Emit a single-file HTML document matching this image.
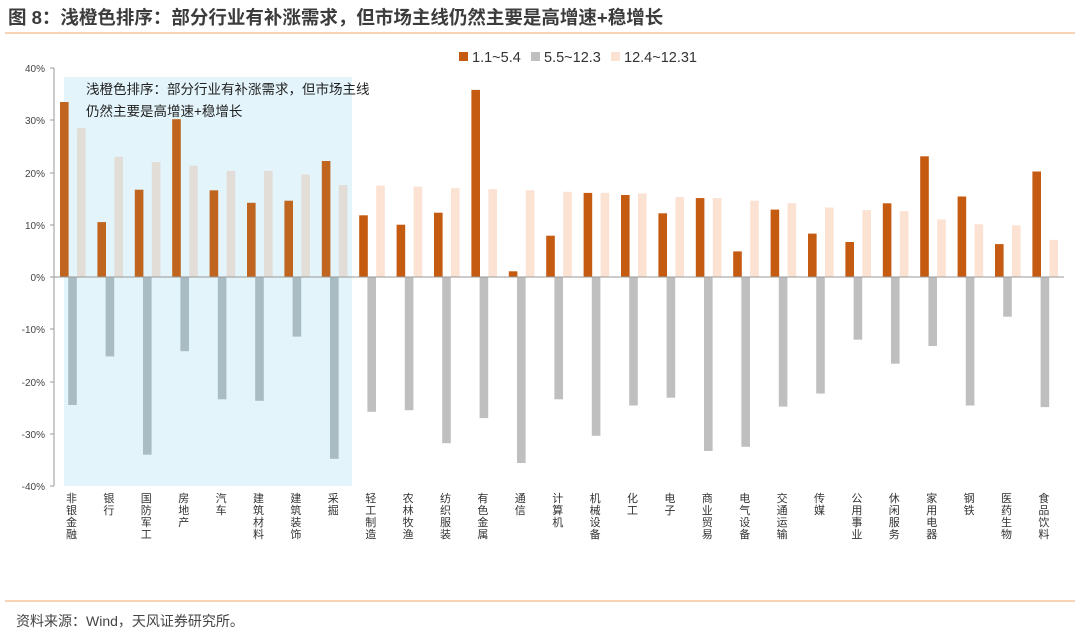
<!DOCTYPE html>
<html><head><meta charset="utf-8"><style>
body{margin:0;background:#fff;}
svg{display:block;font-family:"Liberation Sans","Noto Sans CJK SC",sans-serif;}
</style></head><body>
<svg width="1080" height="633" viewBox="0 0 1080 633" xmlns="http://www.w3.org/2000/svg">
<text x="8" y="24" font-size="18.5" font-weight="bold" fill="#3c3c3c">图 8：浅橙色排序：部分行业有补涨需求，但市场主线仍然主要是高增速+稳增长</text>
<line x1="5" y1="33" x2="1075" y2="33" stroke="#f6c59c" stroke-width="1.5"/>
<rect x="64" y="77" width="288" height="409" fill="#e3f4fb"/>
<text x="86" y="94" font-size="13.5" fill="#222">浅橙色排序：部分行业有补涨需求，但市场主线</text>
<text x="86" y="116" font-size="13.5" fill="#222">仍然主要是高增速+稳增长</text>
<rect x="459" y="52" width="9" height="9" fill="#c55a11"/><text x="472" y="62" font-size="14.5" fill="#333">1.1~5.4</text>
<rect x="531" y="52" width="9" height="9" fill="#bfbfbf"/><text x="544" y="62" font-size="14.5" fill="#333">5.5~12.3</text>
<rect x="611" y="52" width="9" height="9" fill="#fbe2d3"/><text x="624" y="62" font-size="14.5" fill="#333">12.4~12.31</text>
<g>
<rect x="60.0" y="102.0" width="8.6" height="175.0" fill="#c0651f"/><rect x="68.2" y="277" width="8.6" height="128.0" fill="#a9bbc3"/><rect x="77.0" y="128.1" width="8.6" height="148.9" fill="#e2ddd6"/>
<rect x="97.4" y="222.1" width="8.6" height="54.9" fill="#c0651f"/><rect x="105.6" y="277" width="8.6" height="79.4" fill="#a9bbc3"/><rect x="114.4" y="156.8" width="8.6" height="120.2" fill="#e2ddd6"/>
<rect x="134.8" y="189.7" width="8.6" height="87.3" fill="#c0651f"/><rect x="143.0" y="277" width="8.6" height="177.7" fill="#a9bbc3"/><rect x="151.8" y="162.0" width="8.6" height="115.0" fill="#e2ddd6"/>
<rect x="172.2" y="119.2" width="8.6" height="157.8" fill="#c0651f"/><rect x="180.4" y="277" width="8.6" height="74.2" fill="#a9bbc3"/><rect x="189.2" y="165.7" width="8.6" height="111.3" fill="#e2ddd6"/>
<rect x="209.6" y="190.3" width="8.6" height="86.7" fill="#c0651f"/><rect x="217.8" y="277" width="8.6" height="122.3" fill="#a9bbc3"/><rect x="226.6" y="170.9" width="8.6" height="106.1" fill="#e2ddd6"/>
<rect x="247.0" y="202.8" width="8.6" height="74.2" fill="#c0651f"/><rect x="255.2" y="277" width="8.6" height="123.8" fill="#a9bbc3"/><rect x="264.0" y="170.9" width="8.6" height="106.1" fill="#e2ddd6"/>
<rect x="284.4" y="200.7" width="8.6" height="76.3" fill="#c0651f"/><rect x="292.6" y="277" width="8.6" height="59.6" fill="#a9bbc3"/><rect x="301.4" y="174.6" width="8.6" height="102.4" fill="#e2ddd6"/>
<rect x="321.8" y="161.0" width="8.6" height="116.0" fill="#c0651f"/><rect x="330.0" y="277" width="8.6" height="181.8" fill="#a9bbc3"/><rect x="338.8" y="185.0" width="8.6" height="92.0" fill="#e2ddd6"/>
</g>
<g>
<rect x="359.2" y="215.3" width="8.6" height="61.7" fill="#c55a11"/><rect x="367.4" y="277" width="8.6" height="134.8" fill="#bfbfbf"/><rect x="376.2" y="185.6" width="8.6" height="91.4" fill="#fbe2d3"/>
<rect x="396.6" y="224.7" width="8.6" height="52.3" fill="#c55a11"/><rect x="404.8" y="277" width="8.6" height="133.2" fill="#bfbfbf"/><rect x="413.6" y="186.6" width="8.6" height="90.4" fill="#fbe2d3"/>
<rect x="434.0" y="212.7" width="8.6" height="64.3" fill="#c55a11"/><rect x="442.2" y="277" width="8.6" height="166.2" fill="#bfbfbf"/><rect x="451.0" y="188.2" width="8.6" height="88.8" fill="#fbe2d3"/>
<rect x="471.4" y="89.9" width="8.6" height="187.1" fill="#c55a11"/><rect x="479.6" y="277" width="8.6" height="141.1" fill="#bfbfbf"/><rect x="488.4" y="189.2" width="8.6" height="87.8" fill="#fbe2d3"/>
<rect x="508.8" y="271.3" width="8.6" height="5.7" fill="#c55a11"/><rect x="517.0" y="277" width="8.6" height="186.0" fill="#bfbfbf"/><rect x="525.8" y="190.3" width="8.6" height="86.7" fill="#fbe2d3"/>
<rect x="546.2" y="235.7" width="8.6" height="41.3" fill="#c55a11"/><rect x="554.4" y="277" width="8.6" height="122.3" fill="#bfbfbf"/><rect x="563.2" y="191.8" width="8.6" height="85.2" fill="#fbe2d3"/>
<rect x="583.6" y="192.9" width="8.6" height="84.1" fill="#c55a11"/><rect x="591.8" y="277" width="8.6" height="158.8" fill="#bfbfbf"/><rect x="600.6" y="192.9" width="8.6" height="84.1" fill="#fbe2d3"/>
<rect x="621.0" y="195.0" width="8.6" height="82.0" fill="#c55a11"/><rect x="629.2" y="277" width="8.6" height="128.5" fill="#bfbfbf"/><rect x="638.0" y="193.4" width="8.6" height="83.6" fill="#fbe2d3"/>
<rect x="658.4" y="213.3" width="8.6" height="63.7" fill="#c55a11"/><rect x="666.6" y="277" width="8.6" height="120.7" fill="#bfbfbf"/><rect x="675.4" y="197.1" width="8.6" height="79.9" fill="#fbe2d3"/>
<rect x="695.8" y="198.1" width="8.6" height="78.9" fill="#c55a11"/><rect x="704.0" y="277" width="8.6" height="174.0" fill="#bfbfbf"/><rect x="712.8" y="198.1" width="8.6" height="78.9" fill="#fbe2d3"/>
<rect x="733.2" y="251.4" width="8.6" height="25.6" fill="#c55a11"/><rect x="741.4" y="277" width="8.6" height="169.8" fill="#bfbfbf"/><rect x="750.2" y="200.7" width="8.6" height="76.3" fill="#fbe2d3"/>
<rect x="770.6" y="209.6" width="8.6" height="67.4" fill="#c55a11"/><rect x="778.8" y="277" width="8.6" height="129.6" fill="#bfbfbf"/><rect x="787.6" y="203.3" width="8.6" height="73.7" fill="#fbe2d3"/>
<rect x="808.0" y="233.6" width="8.6" height="43.4" fill="#c55a11"/><rect x="816.2" y="277" width="8.6" height="116.5" fill="#bfbfbf"/><rect x="825.0" y="207.5" width="8.6" height="69.5" fill="#fbe2d3"/>
<rect x="845.4" y="242.0" width="8.6" height="35.0" fill="#c55a11"/><rect x="853.6" y="277" width="8.6" height="62.7" fill="#bfbfbf"/><rect x="862.4" y="210.1" width="8.6" height="66.9" fill="#fbe2d3"/>
<rect x="882.8" y="203.3" width="8.6" height="73.7" fill="#c55a11"/><rect x="891.0" y="277" width="8.6" height="86.7" fill="#bfbfbf"/><rect x="899.8" y="211.2" width="8.6" height="65.8" fill="#fbe2d3"/>
<rect x="920.2" y="156.3" width="8.6" height="120.7" fill="#c55a11"/><rect x="928.4" y="277" width="8.6" height="69.0" fill="#bfbfbf"/><rect x="937.2" y="219.5" width="8.6" height="57.5" fill="#fbe2d3"/>
<rect x="957.6" y="196.5" width="8.6" height="80.5" fill="#c55a11"/><rect x="965.8" y="277" width="8.6" height="128.5" fill="#bfbfbf"/><rect x="974.6" y="224.2" width="8.6" height="52.8" fill="#fbe2d3"/>
<rect x="995.0" y="244.1" width="8.6" height="32.9" fill="#c55a11"/><rect x="1003.2" y="277" width="8.6" height="39.7" fill="#bfbfbf"/><rect x="1012.0" y="225.3" width="8.6" height="51.7" fill="#fbe2d3"/>
<rect x="1032.4" y="171.5" width="8.6" height="105.5" fill="#c55a11"/><rect x="1040.6" y="277" width="8.6" height="130.1" fill="#bfbfbf"/><rect x="1049.4" y="239.9" width="8.6" height="37.1" fill="#fbe2d3"/>
</g>
<g font-size="10" fill="#444" text-anchor="end">
<text x="45" y="72">40%</text><text x="45" y="124">30%</text><text x="45" y="177">20%</text><text x="45" y="229">10%</text><text x="45" y="281">0%</text><text x="45" y="333">-10%</text><text x="45" y="386">-20%</text><text x="45" y="438">-30%</text><text x="45" y="490">-40%</text>
</g>
<g stroke="#999" stroke-width="1">
<line x1="54" y1="68" x2="54" y2="486"/>
<line x1="50" y1="68" x2="54" y2="68"/><line x1="50" y1="120" x2="54" y2="120"/><line x1="50" y1="173" x2="54" y2="173"/><line x1="50" y1="225" x2="54" y2="225"/><line x1="50" y1="277" x2="54" y2="277"/><line x1="50" y1="329" x2="54" y2="329"/><line x1="50" y1="382" x2="54" y2="382"/><line x1="50" y1="434" x2="54" y2="434"/><line x1="50" y1="486" x2="54" y2="486"/>
<line x1="54" y1="277" x2="1064" y2="277"/>
</g>
<g font-size="11" fill="#333" text-anchor="middle">
<text x="71.5" y="502"><tspan x="71.5">非</tspan><tspan x="71.5" dy="12">银</tspan><tspan x="71.5" dy="12">金</tspan><tspan x="71.5" dy="12">融</tspan></text>
<text x="108.9" y="502"><tspan x="108.9">银</tspan><tspan x="108.9" dy="12">行</tspan></text>
<text x="146.3" y="502"><tspan x="146.3">国</tspan><tspan x="146.3" dy="12">防</tspan><tspan x="146.3" dy="12">军</tspan><tspan x="146.3" dy="12">工</tspan></text>
<text x="183.7" y="502"><tspan x="183.7">房</tspan><tspan x="183.7" dy="12">地</tspan><tspan x="183.7" dy="12">产</tspan></text>
<text x="221.1" y="502"><tspan x="221.1">汽</tspan><tspan x="221.1" dy="12">车</tspan></text>
<text x="258.5" y="502"><tspan x="258.5">建</tspan><tspan x="258.5" dy="12">筑</tspan><tspan x="258.5" dy="12">材</tspan><tspan x="258.5" dy="12">料</tspan></text>
<text x="295.9" y="502"><tspan x="295.9">建</tspan><tspan x="295.9" dy="12">筑</tspan><tspan x="295.9" dy="12">装</tspan><tspan x="295.9" dy="12">饰</tspan></text>
<text x="333.3" y="502"><tspan x="333.3">采</tspan><tspan x="333.3" dy="12">掘</tspan></text>
<text x="370.7" y="502"><tspan x="370.7">轻</tspan><tspan x="370.7" dy="12">工</tspan><tspan x="370.7" dy="12">制</tspan><tspan x="370.7" dy="12">造</tspan></text>
<text x="408.1" y="502"><tspan x="408.1">农</tspan><tspan x="408.1" dy="12">林</tspan><tspan x="408.1" dy="12">牧</tspan><tspan x="408.1" dy="12">渔</tspan></text>
<text x="445.5" y="502"><tspan x="445.5">纺</tspan><tspan x="445.5" dy="12">织</tspan><tspan x="445.5" dy="12">服</tspan><tspan x="445.5" dy="12">装</tspan></text>
<text x="482.9" y="502"><tspan x="482.9">有</tspan><tspan x="482.9" dy="12">色</tspan><tspan x="482.9" dy="12">金</tspan><tspan x="482.9" dy="12">属</tspan></text>
<text x="520.3" y="502"><tspan x="520.3">通</tspan><tspan x="520.3" dy="12">信</tspan></text>
<text x="557.7" y="502"><tspan x="557.7">计</tspan><tspan x="557.7" dy="12">算</tspan><tspan x="557.7" dy="12">机</tspan></text>
<text x="595.1" y="502"><tspan x="595.1">机</tspan><tspan x="595.1" dy="12">械</tspan><tspan x="595.1" dy="12">设</tspan><tspan x="595.1" dy="12">备</tspan></text>
<text x="632.5" y="502"><tspan x="632.5">化</tspan><tspan x="632.5" dy="12">工</tspan></text>
<text x="669.9" y="502"><tspan x="669.9">电</tspan><tspan x="669.9" dy="12">子</tspan></text>
<text x="707.3" y="502"><tspan x="707.3">商</tspan><tspan x="707.3" dy="12">业</tspan><tspan x="707.3" dy="12">贸</tspan><tspan x="707.3" dy="12">易</tspan></text>
<text x="744.7" y="502"><tspan x="744.7">电</tspan><tspan x="744.7" dy="12">气</tspan><tspan x="744.7" dy="12">设</tspan><tspan x="744.7" dy="12">备</tspan></text>
<text x="782.1" y="502"><tspan x="782.1">交</tspan><tspan x="782.1" dy="12">通</tspan><tspan x="782.1" dy="12">运</tspan><tspan x="782.1" dy="12">输</tspan></text>
<text x="819.5" y="502"><tspan x="819.5">传</tspan><tspan x="819.5" dy="12">媒</tspan></text>
<text x="856.9" y="502"><tspan x="856.9">公</tspan><tspan x="856.9" dy="12">用</tspan><tspan x="856.9" dy="12">事</tspan><tspan x="856.9" dy="12">业</tspan></text>
<text x="894.3" y="502"><tspan x="894.3">休</tspan><tspan x="894.3" dy="12">闲</tspan><tspan x="894.3" dy="12">服</tspan><tspan x="894.3" dy="12">务</tspan></text>
<text x="931.7" y="502"><tspan x="931.7">家</tspan><tspan x="931.7" dy="12">用</tspan><tspan x="931.7" dy="12">电</tspan><tspan x="931.7" dy="12">器</tspan></text>
<text x="969.1" y="502"><tspan x="969.1">钢</tspan><tspan x="969.1" dy="12">铁</tspan></text>
<text x="1006.5" y="502"><tspan x="1006.5">医</tspan><tspan x="1006.5" dy="12">药</tspan><tspan x="1006.5" dy="12">生</tspan><tspan x="1006.5" dy="12">物</tspan></text>
<text x="1043.9" y="502"><tspan x="1043.9">食</tspan><tspan x="1043.9" dy="12">品</tspan><tspan x="1043.9" dy="12">饮</tspan><tspan x="1043.9" dy="12">料</tspan></text>
</g>
<line x1="5" y1="601" x2="1075" y2="601" stroke="#f6c59c" stroke-width="1.5"/>
<text x="16" y="626" font-size="14" fill="#444">资料来源：Wind，天风证券研究所。</text>
</svg>
</body></html>
